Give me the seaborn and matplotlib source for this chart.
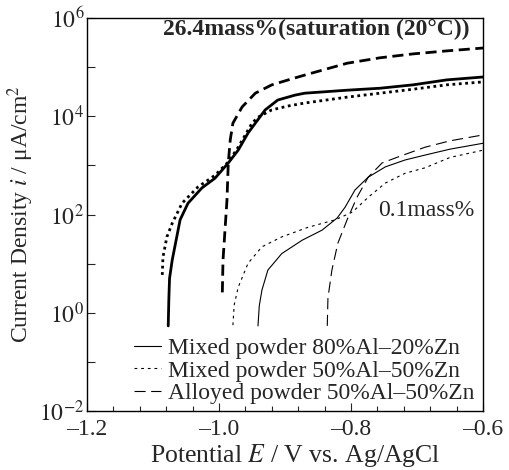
import numpy as np
import matplotlib
matplotlib.use("Agg")
import matplotlib.pyplot as plt
import seaborn as sns

# 26.4 mass% (thick lines)
E_mix82_sat = [-1.077, -1.076, -1.075, -1.071, -1.059, -1.047, -1.026, -1.006, -0.986, -0.971,
               -0.956, -0.945, -0.930, -0.911, -0.885, -0.870, -0.806, -0.756, -0.706, -0.655, -0.600]
i_mix82_sat = [0.54, 2.0, 5.0, 11.7, 78, 170, 347, 550, 1120, 2040,
               4570, 7240, 13500, 21400, 26900, 29500, 33900, 37200, 43600, 55000, 63000]

E_mix55_sat = [-1.086, -1.085, -1.079, -1.071, -1.056, -1.032, -1.006, -0.986, -0.971, -0.950,
               -0.941, -0.920, -0.895, -0.870, -0.806, -0.756, -0.706, -0.655, -0.600]
i_mix55_sat = [5.9, 13.5, 35, 66, 170, 363, 631, 1175, 2340, 7240,
               9550, 13500, 16200, 18600, 24500, 29500, 35500, 43600, 50000]

E_alloy_sat = [-0.995, -0.994, -0.988, -0.986, -0.983, -0.979, -0.965, -0.945, -0.920, -0.895,
               -0.870, -0.806, -0.756, -0.706, -0.655, -0.600]
i_alloy_sat = [2.6, 11.7, 195, 1120, 3310, 7240, 15500, 29500, 43600, 55000,
               69000, 120000, 155000, 186000, 214000, 245000]

# 0.1 mass% (thin lines)
E_mix82_low = [-0.941, -0.939, -0.935, -0.926, -0.905, -0.874, -0.844, -0.821, -0.809, -0.794,
               -0.774, -0.748, -0.718, -0.688, -0.650, -0.600]
i_mix82_low = [0.54, 1.4, 2.9, 7.4, 16, 30, 48, 85, 141, 316,
               575, 933, 1290, 1620, 2140, 2820]

E_mix55_low = [-0.979, -0.977, -0.971, -0.956, -0.935, -0.905, -0.865, -0.824, -0.798, -0.774,
               -0.748, -0.718, -0.688, -0.650, -0.600]
i_mix55_low = [0.56, 1.45, 3.3, 10.2, 22, 35, 55, 78, 112, 224,
               437, 692, 891, 1450, 2040]

E_alloy_low = [-0.836, -0.835, -0.829, -0.820, -0.806, -0.791, -0.774, -0.753, -0.729, -0.688,
               -0.650, -0.600]
i_alloy_low = [0.54, 2.0, 7.4, 26, 78, 224, 575, 1120, 1480, 2340,
               3160, 4170]

labels = ["Mixed powder 80%Al\u201320%Zn", "Mixed powder 50%Al\u201350%Zn",
          "Alloyed powder 50%Al\u201350%Zn"]

sns.set_style("ticks")
plt.rcParams["font.family"] = ["Liberation Serif", "DejaVu Serif"]
plt.rcParams["mathtext.fontset"] = "stix"
plt.rcParams["font.size"] = 17

fig = plt.figure(figsize=(5.09, 4.70), dpi=100)
ax = fig.add_axes([0.171, 0.1255, 0.778, 0.8362])

thick = 2.0
thin = 0.8
sns.lineplot(x=E_mix82_sat, y=i_mix82_sat, ax=ax, color="k", lw=thick, sort=False, estimator=None)
sns.lineplot(x=E_mix55_sat, y=i_mix55_sat, ax=ax, color="k", lw=thick, sort=False, estimator=None,
             linestyle=(0, (1, 1.3)))
sns.lineplot(x=E_alloy_sat, y=i_alloy_sat, ax=ax, color="k", lw=thick, sort=False, estimator=None,
             linestyle=(0, (4, 2)))

sns.lineplot(x=E_mix82_low, y=i_mix82_low, ax=ax, color="k", lw=thin, sort=False, estimator=None,
             label=labels[0])
sns.lineplot(x=E_mix55_low, y=i_mix55_low, ax=ax, color="k", lw=thin, sort=False, estimator=None,
             linestyle=(0, (2.5, 3.5)), label=labels[1])
sns.lineplot(x=E_alloy_low, y=i_alloy_low, ax=ax, color="k", lw=thin, sort=False, estimator=None,
             linestyle=(0, (10, 5)), label=labels[2])

ax.set_yscale("log")
ax.set_xlim(-1.2, -0.6)
ax.set_ylim(1e-2, 1e6)

yt = [1e-2, 1e0, 1e2, 1e4, 1e6]
ax.set_yticks(yt)
ax.set_yticklabels([r"$10^{-2}$", r"$10^{0}$", r"$10^{2}$", r"$10^{4}$", r"$10^{6}$"])
ax.set_yticks([1e-1, 1e1, 1e3, 1e5], minor=True)
ax.yaxis.set_minor_formatter(matplotlib.ticker.NullFormatter())

xt = [-1.2, -1.0, -0.8, -0.6]
ax.set_xticks(xt)
ax.set_xticklabels(["\u20131.2", "\u20131.0", "\u20130.8", "\u20130.6"])
ax.set_xticks(np.arange(-1.2, -0.599, 0.04), minor=True)

ax.tick_params(which="both", direction="in", top=False, right=False, labelsize=17)
ax.tick_params(axis="y", which="both", length=6, width=0.8, pad=2)
ax.tick_params(axis="x", which="major", length=6, width=0.8, pad=6)
ax.tick_params(axis="x", which="minor", length=3.5, width=0.8)
for s in ax.spines.values():
    s.set_linewidth(1.0)
    s.set_color("k")

ax.set_xlabel("Potential $E$ / V vs. Ag/AgCl", fontsize=18.5, labelpad=-1)
ax.xaxis.set_label_coords(0.525, -0.08)
ax.set_ylabel("Current Density $i$ / \u03bcA/cm$^2$", fontsize=17, labelpad=2)

ax.text(0.965, 0.97, "26.4mass%(saturation (20\u00b0C))", transform=ax.transAxes,
        ha="right", va="center", fontsize=17, fontweight="bold")
ax.text(0.735, 0.511, "0.1mass%", transform=ax.transAxes, ha="left", va="center", fontsize=17)

ax.legend(loc="lower right", bbox_to_anchor=(1.02, -0.025), frameon=False, fontsize=17,
          handlelength=1.15, handletextpad=0.3, labelspacing=0.05, borderpad=0.2)

fig.savefig("out.png", dpi=100)
